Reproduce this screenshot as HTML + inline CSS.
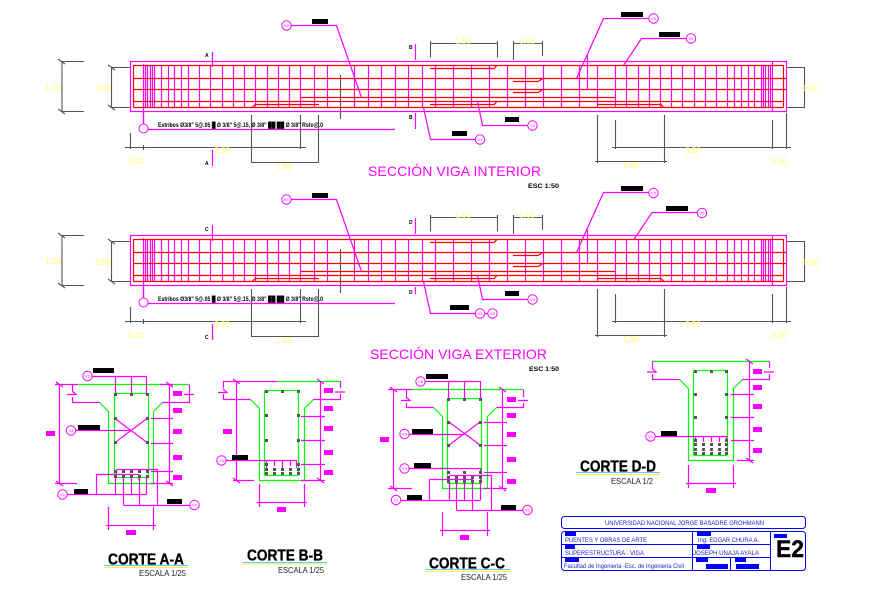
<!DOCTYPE html>
<html><head><meta charset="utf-8"><style>
html,body{margin:0;padding:0;background:#fff}
svg{display:block}
text{font-family:"Liberation Sans",sans-serif}
.m{stroke:#f0f;fill:none;stroke-width:1.2}
.r{stroke:#f00;fill:none;stroke-width:1.2}
.g{stroke:#0f0;fill:none;stroke-width:1.2}
.d{stroke:#555;fill:none;stroke-width:1.1}
.b{stroke:#00f;fill:none;stroke-width:1}
.y{fill:#ffff66;font-size:8px;text-anchor:middle}
.c{fill:#fff;stroke:#f0f;stroke-width:1}
.n{fill:#f0f;font-size:4px;text-anchor:middle}
.t{fill:#000;font-weight:bold;font-size:6px}
.h{fill:#000;font-weight:bold;font-size:16px;stroke:#000;stroke-width:.35}
.e{fill:#222;font-size:8px}
.f{fill:#22c;font-size:6px}
</style></head><body>
<svg width="878" height="600" viewBox="0 0 878 600" xmlns="http://www.w3.org/2000/svg">
<rect width="878" height="600" fill="#fff"/>
<defs>
<g id="beam">
<path class="d" d="M62 61.5V111.5M62 61.5H84M62 111.5H84M58 59L65 64M58 109L65 114M111.5 67.5V107.5M111.5 67.5H130M111.5 107.5H130M108 65L115 70M108 105L115 110"/>
<path class="d" d="M130.500 133V149M125 147.500H306M143.500 145V150M300.500 115V149M251.500 115V163M318.500 115V163M251 162.500H319M430.500 41V57.500M497.500 41V57.500M430 43.500H498M513.500 41V60M542.500 41V56M513 43.500H543M804.500 67.500V107.500M786 67.500H805M786 107.500H805M615.500 120V149M772.500 120V149M786.500 113V149M612 147.500H791M597.500 115V163M664.500 115V163M595 161.500H667M340.500 75V119"/>
<rect class="m" x="130.500" y="61.500" width="656" height="50"/>
<path class="m" d="M143.500 64V123M145.500 65V107M147.500 65V107M150.500 65V107M152.500 65V107M154.500 65V107M161.500 65V107M168.500 65V107M174.500 65V107M181.500 65V107M188.500 65V107M199.500 65V107M210.500 65V107M222.500 65V107M233.500 65V107M244.500 65V107M255.500 65V107M267.500 65V107M278.500 65V107M289.500 65V107M300.500 65V107M314.500 65V107M327.500 65V107M354.500 65V107M368.500 65V107M381.500 65V107M395.500 65V107M408.500 65V107M422.500 65V107M435.500 65V107M453.500 65V107M471.500 65V107M489.500 65V107M507.500 65V107M525.500 65V107M543.500 65V107M561.500 65V107M579.500 65V107M597.500 65V107M615.500 65V107M626.500 65V107M638.500 65V107M649.500 65V107M660.500 65V107M671.500 65V107M682.500 65V107M694.500 65V107M705.500 65V107M716.500 65V107M727.500 65V107M734.500 65V107M741.500 65V107M748.500 65V107M754.500 65V107M761.500 65V107M763.500 65V107M765.500 65V107M768.500 65V107M770.500 65V107M772.500 62V111"/>
<path class="r" d="M133.500 65.500H783.500M133.500 78.500H786M133.500 89.500H786M133.500 101.500H783.500M133.500 107.500H783.500M133.500 65V107.500M783.500 65V107.500M300.500 97.500H615M255 104.500H319M252 107.500L255 104.500M430 68.500H494L497 65.500M430 104.500H494L497 101.500M513 81.500H538L543 78.500M513 92.500H538L543 89.500M597 104.500H661L664 107.500"/>
<path class="m" d="M143.500 111V124M148 129.500H395M423.500 107.500L430.500 139.500H476M477.500 101.500L482.500 125.500H528M587.500 55V89.500"/>
</g>
</defs>

<!-- BEAM 1 -->
<use href="#beam"/>
<circle class="c" cx="143.500" cy="128.500" r="4.500"/>
<path class="m" d="M212.500 52V67M212.500 150V166M415.500 44V60M415.500 113V129M291 25.500H336.500L361.500 97.500M576.500 78.500L603.500 18.500H649M623.500 65.500L641.500 38.500H687"/>
<rect x="312" y="19" width="16" height="5"/><rect x="452" y="131" width="15" height="5"/><rect x="505" y="117" width="14" height="5"/><rect x="621" y="12" width="22" height="5"/><rect x="659" y="32" width="21" height="5"/>
<circle class="c" cx="286.500" cy="25.500" r="4.700"/><text class="n" x="286.500" y="27">E2</text>
<circle class="c" cx="480" cy="139.500" r="4.700"/><text class="n" x="480" y="141">V1</text>
<circle class="c" cx="532.500" cy="125.500" r="4.700"/><text class="n" x="532.500" y="127">V2</text>
<circle class="c" cx="653.500" cy="18.500" r="4.700"/><text class="n" x="653.500" y="20">V4</text>
<circle class="c" cx="691" cy="38.500" r="4.700"/><text class="n" x="691" y="40">V5</text>
<text class="t" x="205" y="57" style="font-size:5px">A</text><text class="t" x="205" y="165" style="font-size:5px">A</text>
<text class="t" x="409" y="49" style="font-size:5px">B</text><text class="t" x="409" y="119" style="font-size:5px">B</text>
<text class="y" x="53" y="90">1.10</text><text class="y" x="103" y="91">0.90</text><text class="y" x="222" y="153">3.50</text><text class="y" x="136" y="164">0.30</text><text class="y" x="284" y="169">1.50</text><text class="y" x="463" y="44">1.50</text><text class="y" x="527" y="44">0.65</text><text class="y" x="811" y="91">0.90</text><text class="y" x="693" y="153">3.50</text><text class="y" x="779" y="164">0.30</text><text class="y" x="631" y="168">1.60</text>
<text class="t" x="158" y="127" textLength="165" lengthAdjust="spacingAndGlyphs">Estribos Ø3/8" 5@.05 █ Ø 3/8" 5@.15, Ø 3/8" ██ ██ Ø 3/8" Rsto@.0</text>
<text x="368" y="176" font-size="14" fill="#f0f" textLength="173">SECCIÓN VIGA INTERIOR</text>
<text class="t" x="528" y="188" textLength="31" lengthAdjust="spacingAndGlyphs">ESC 1:50</text>

<!-- BEAM 2 -->
<use href="#beam" y="174"/>
<circle class="c" cx="143.500" cy="302.500" r="4.500"/>
<path class="m" d="M212.500 225V241M212.500 324V340M415.500 218V234M415.500 287V294M291 199.500H336.500L361.500 271.500M576.500 252.500L603.500 192.500H649M634 239.500L652 212.500H698"/>
<rect x="312" y="193" width="16" height="5"/><rect x="450" y="305" width="19" height="5"/><rect x="505" y="291" width="14" height="5"/><rect x="621" y="186" width="22" height="5"/><rect x="666" y="206" width="22" height="5"/>
<circle class="c" cx="286.500" cy="199.500" r="4.700"/><text class="n" x="286.500" y="201">E1</text>
<path class="m" d="M484 313.500H489"/>
<circle class="c" cx="480" cy="313.500" r="4.700"/><text class="n" x="480" y="315">V1</text>
<circle class="c" cx="492.500" cy="313.500" r="4.700"/><text class="n" x="492.500" y="315">V2</text>
<circle class="c" cx="532.500" cy="299.500" r="4.700"/><text class="n" x="532.500" y="301">V3</text>
<circle class="c" cx="653.500" cy="193" r="4.700"/><text class="n" x="653.500" y="194.500">V3</text>
<circle class="c" cx="702" cy="213" r="4.700"/><text class="n" x="702" y="214.500">V5</text>
<text class="t" x="205" y="231" style="font-size:5px">C</text><text class="t" x="205" y="339" style="font-size:5px">C</text>
<text class="t" x="409" y="224" style="font-size:5px">D</text><text class="t" x="409" y="294" style="font-size:5px">D</text>
<text class="y" x="53" y="264">1.10</text><text class="y" x="103" y="265">0.90</text><text class="y" x="222" y="327">3.50</text><text class="y" x="136" y="338">0.30</text><text class="y" x="284" y="343">1.50</text><text class="y" x="463" y="218">1.50</text><text class="y" x="527" y="218">0.65</text><text class="y" x="811" y="265">0.90</text><text class="y" x="693" y="327">3.50</text><text class="y" x="779" y="338">0.30</text><text class="y" x="631" y="342">1.60</text>
<text class="t" x="158" y="301" textLength="165" lengthAdjust="spacingAndGlyphs">Estribos Ø3/8" 5@.05 █ Ø 3/8" 5@.15, Ø 3/8" ██ ██ Ø 3/8" Rsto@.0</text>
<text x="370" y="359" font-size="14" fill="#f0f" textLength="177">SECCIÓN VIGA EXTERIOR</text>
<text class="t" x="529" y="371" textLength="30" lengthAdjust="spacingAndGlyphs">ESC 1:50</text>

<!-- CORTE A-A -->
<path class="g" d="M78 384.500H189M99.500 402.500L108.500 411.500V483.500H153.500V411.500L162.500 402.500"/>
<rect class="g" x="114.500" y="393.500" width="34" height="84" rx="1.500"/>
<path class="m" d="M55 384.500H78M72.500 384.500V391M72.500 397V402.500H99.500M67 394.500H76L72 391M162.500 402.500H189.500V384.500M184 394.500H194M115 418.500L147 442.500M147 418.500L115 442.500M92 376.500H146.500M115.500 376V394M131.500 376V394M146.500 376V394M76 430.500H131M67 494.500H146.500M96.500 494.500V474.500H139V480M115.500 476V494M123.500 476V494M131.500 476V494M139.500 476V494M146.500 476V494M123.500 505.500H190M123.500 480V505M139.500 480V505M157.500 469.500V505M116.500 469.500H157.500M116.500 469.500V474M169.500 384V484M151 418.500H173M151 443.500H173M151 471.500H173M151 483.500H173M162 402.500H173M160 384.500H173M166 382L173 387M166 481L173 486M59.500 384V484M55 483.500H77M56 382L63 387M56 481L63 486M108.500 507V530M153.500 507V530M106 525.500H156"/>
<g fill="#555"><rect x="114" y="393" width="3" height="3"/><rect x="130" y="393" width="3" height="3"/><rect x="146" y="393" width="3" height="3"/><rect x="114" y="417" width="3" height="3"/><rect x="146" y="417" width="3" height="3"/><rect x="114" y="441" width="3" height="3"/><rect x="146" y="441" width="3" height="3"/><rect x="114" y="470" width="3" height="3"/><rect x="122" y="470" width="3" height="3"/><rect x="130" y="470" width="3" height="3"/><rect x="138" y="470" width="3" height="3"/><rect x="146" y="470" width="3" height="3"/><rect x="114" y="475" width="3" height="3"/><rect x="122" y="475" width="3" height="3"/><rect x="130" y="475" width="3" height="3"/><rect x="138" y="475" width="3" height="3"/><rect x="146" y="475" width="3" height="3"/></g>
<rect x="93" y="368" width="21" height="5"/><rect x="78" y="425" width="22" height="5"/><rect x="74" y="489" width="14" height="5"/><rect x="167" y="499" width="15" height="5"/>
<g fill="#f0f"><rect x="173" y="391" width="9" height="5"/><rect x="173" y="408" width="9" height="5"/><rect x="173" y="429" width="9" height="5"/><rect x="173" y="455" width="9" height="5"/><rect x="173" y="475" width="9" height="5"/><rect x="46" y="431" width="9" height="5"/><rect x="126" y="530" width="10" height="5"/></g>
<circle class="c" cx="87.500" cy="376" r="4.700"/><text class="n" x="87.500" y="377.500">V3</text>
<circle class="c" cx="71" cy="430.500" r="4.700"/><text class="n" x="71" y="432">V4</text>
<circle class="c" cx="62.500" cy="494.500" r="4.700"/><text class="n" x="62.500" y="496">V1</text>
<circle class="c" cx="194.500" cy="505" r="4.700"/><text class="n" x="194.500" y="506.500">V2</text>
<text class="h" x="108" y="564.500" textLength="76" lengthAdjust="spacingAndGlyphs">CORTE A-A</text>
<path d="M104 565.500H188" stroke="#5cf" fill="none"/><path d="M104 567.500H188" stroke="#fe3" fill="none"/>
<text class="e" x="139" y="576" textLength="47" lengthAdjust="spacingAndGlyphs">ESCALA 1/25</text>

<!-- CORTE B-B -->
<path class="g" d="M277 381.500H340.500M250.500 399.500L259.500 408.500V480.500H304.500V408.500L313.500 399.500"/>
<rect class="g" x="264.500" y="390.500" width="34" height="85" rx="1.500"/>
<path class="m" d="M223 381.500H277M223.500 381.500V388M223.500 394V399.500H250.500M218 392.500H227L223 389M313.500 399.500H340.500V394M340.500 381V388M335 392H345M225 460.500H296.500M266.500 460V468M274.500 460V466M282.500 460V468M290.500 460V466M296.500 460V468M320.500 381V481M301 416.500H325M301 440.500H325M301 464.500H325M301 480.500H325M313 399.500H325M317 379L324 384M317 478L324 483M236.500 381V481M233 480.500H254M233 379L240 384M233 478L240 483M259.500 484V507M304.500 484V507M257 502.500H307"/>
<g fill="#555"><rect x="265" y="390" width="3" height="3"/><rect x="281" y="390" width="3" height="3"/><rect x="297" y="390" width="3" height="3"/><rect x="265" y="414" width="3" height="3"/><rect x="297" y="414" width="3" height="3"/><rect x="265" y="439" width="3" height="3"/><rect x="297" y="439" width="3" height="3"/><rect x="265" y="463" width="3" height="3"/><rect x="297" y="463" width="3" height="3"/><rect x="265" y="468" width="3" height="3"/><rect x="273" y="468" width="3" height="3"/><rect x="281" y="468" width="3" height="3"/><rect x="289" y="468" width="3" height="3"/><rect x="297" y="468" width="3" height="3"/><rect x="265" y="472" width="3" height="3"/><rect x="273" y="472" width="3" height="3"/><rect x="281" y="472" width="3" height="3"/><rect x="289" y="472" width="3" height="3"/><rect x="297" y="472" width="3" height="3"/></g>
<rect x="232" y="455" width="16" height="5"/>
<g fill="#f0f"><rect x="324" y="388" width="9" height="5"/><rect x="324" y="406" width="9" height="5"/><rect x="324" y="426" width="9" height="5"/><rect x="324" y="450" width="9" height="5"/><rect x="324" y="470" width="9" height="5"/><rect x="223" y="429" width="9" height="5"/><rect x="277" y="507" width="9" height="5"/></g>
<circle class="c" cx="221.500" cy="460.500" r="4.700"/><text class="n" x="221.500" y="462">V3</text>
<text class="h" x="247" y="560.500" textLength="76" lengthAdjust="spacingAndGlyphs">CORTE B-B</text>
<path d="M243 562.500H327" stroke="#5cf" fill="none"/><path d="M243 564H327" stroke="#fe3" fill="none"/>
<text class="e" x="278" y="573" textLength="46" lengthAdjust="spacingAndGlyphs">ESCALA 1/25</text>

<!-- CORTE C-C -->
<path class="g" d="M412 389.500H523.500M433.500 407.500L442.500 416.500V488.500H487.500V416.500L496.500 407.500"/>
<rect class="g" x="447.500" y="398.500" width="34" height="85" rx="1.500"/>
<path class="m" d="M388 389.500H412M406.500 389.500V397M406.500 403V407.500H433.500M401 400.500H410L406 397M496.500 407.500H523.500V403M523.500 389.500V397M518 400.500H528M449 422L480 445M480 422L449 445M425 381.500H480.500M448.500 381V400M464.500 381V400M480.500 381V400M409 434.500H464.500M409 468.500H480.500V472M401 500.500H480.500M429.500 500.500V479.500H472.500M449.500 478V500M464.500 478V500M472.500 478V500M480.500 478V500M456.500 510.500H523M456.500 478V510M472.500 500V510M491.500 475.500V510M449.500 475.500H491.500M502.500 389V488M484 422.500H507M484 445.500H507M484 472.500H507M484 488.500H507M497 407.500H507M499 387L506 392M499 486L506 491M393.500 389V488M388 488.500H412M390 387L397 392M390 486L397 491M442.500 512V536M487.500 512V536M440 530.500H490"/>
<g fill="#555"><rect x="447" y="398" width="3" height="3"/><rect x="463" y="398" width="3" height="3"/><rect x="479" y="398" width="3" height="3"/><rect x="447" y="421" width="3" height="3"/><rect x="479" y="421" width="3" height="3"/><rect x="447" y="444" width="3" height="3"/><rect x="479" y="444" width="3" height="3"/><rect x="447" y="471" width="3" height="3"/><rect x="463" y="471" width="3" height="3"/><rect x="479" y="471" width="3" height="3"/><rect x="447" y="476" width="3" height="3"/><rect x="455" y="476" width="3" height="3"/><rect x="463" y="476" width="3" height="3"/><rect x="471" y="476" width="3" height="3"/><rect x="479" y="476" width="3" height="3"/><rect x="447" y="480" width="3" height="3"/><rect x="455" y="480" width="3" height="3"/><rect x="463" y="480" width="3" height="3"/><rect x="471" y="480" width="3" height="3"/><rect x="479" y="480" width="3" height="3"/></g>
<rect x="426" y="374" width="22" height="5"/><rect x="412" y="429" width="21" height="5"/><rect x="414" y="463" width="17" height="5"/><rect x="407" y="495" width="15" height="5"/><rect x="501" y="505" width="15" height="5"/>
<g fill="#f0f"><rect x="507" y="397" width="9" height="5"/><rect x="507" y="413" width="9" height="5"/><rect x="507" y="432" width="9" height="5"/><rect x="507" y="457" width="9" height="5"/><rect x="507" y="479" width="9" height="5"/><rect x="380" y="437" width="9" height="5"/><rect x="460" y="535" width="9" height="5"/></g>
<circle class="c" cx="420.500" cy="381.500" r="4.700"/><text class="n" x="420.500" y="383">V6</text>
<circle class="c" cx="404.500" cy="434" r="4.700"/><text class="n" x="404.500" y="435.500">V3</text>
<circle class="c" cx="404.500" cy="468.500" r="4.700"/><text class="n" x="404.500" y="470">V3</text>
<circle class="c" cx="396" cy="500" r="4.700"/><text class="n" x="396" y="501.500">V1</text>
<circle class="c" cx="527.500" cy="510" r="4.700"/><text class="n" x="527.500" y="511.500">V2</text>
<text class="h" x="429" y="568.500" textLength="76" lengthAdjust="spacingAndGlyphs">CORTE C-C</text>
<path d="M426 569.500H510" stroke="#5cf" fill="none"/><path d="M426 571.500H510" stroke="#fe3" fill="none"/>
<text class="e" x="461" y="580" textLength="46" lengthAdjust="spacingAndGlyphs">ESCALA 1/25</text>

<!-- CORTE D-D -->
<path class="g" d="M652 361.500H769.500M679.500 379.500L688.500 388.500V460.500H733.500V388.500L742.500 379.500"/>
<rect class="g" x="693.500" y="370.500" width="34" height="85" rx="1.500"/>
<path class="m" d="M652.500 361.500V368M652.500 374V379.500H679.500M647 372H656L652 368M742.500 379.500H769.500V374M769.500 361.500V368M764 372H774M655 436.500H726.500M695.500 436V442M703.500 436V442M711.500 436V442M719.500 436V442M726.500 436V442M749.500 361V461M731 394.500H754M731 417.500H754M731 440.500H754M737 460.500H754M742 379.500H754M746 359L753 364M746 458L753 463M688.500 465V488M733.500 465V488M686 483.500H736"/>
<g fill="#555"><rect x="694" y="370" width="3" height="3"/><rect x="710" y="370" width="3" height="3"/><rect x="725" y="370" width="3" height="3"/><rect x="694" y="393" width="3" height="3"/><rect x="725" y="393" width="3" height="3"/><rect x="694" y="416" width="3" height="3"/><rect x="725" y="416" width="3" height="3"/><rect x="694" y="439" width="3" height="3"/><rect x="725" y="439" width="3" height="3"/><rect x="694" y="443" width="3" height="3"/><rect x="702" y="443" width="3" height="3"/><rect x="710" y="443" width="3" height="3"/><rect x="718" y="443" width="3" height="3"/><rect x="725" y="443" width="3" height="3"/><rect x="694" y="448" width="3" height="3"/><rect x="702" y="448" width="3" height="3"/><rect x="710" y="448" width="3" height="3"/><rect x="718" y="448" width="3" height="3"/><rect x="725" y="448" width="3" height="3"/><rect x="694" y="452" width="3" height="3"/><rect x="702" y="452" width="3" height="3"/><rect x="710" y="452" width="3" height="3"/><rect x="718" y="452" width="3" height="3"/><rect x="725" y="452" width="3" height="3"/></g>
<rect x="661" y="431" width="16" height="5"/>
<g fill="#f0f"><rect x="753" y="369" width="9" height="5"/><rect x="753" y="385" width="9" height="5"/><rect x="753" y="404" width="9" height="5"/><rect x="753" y="427" width="9" height="5"/><rect x="753" y="448" width="9" height="5"/><rect x="706" y="488" width="10" height="5"/></g>
<circle class="c" cx="650.500" cy="436.500" r="4.700"/><text class="n" x="650.500" y="438">V4</text>
<text class="h" x="580" y="471.500" textLength="76" lengthAdjust="spacingAndGlyphs">CORTE D-D</text>
<path d="M576 472.500H660" stroke="#5cf" fill="none"/><path d="M576 474.500H660" stroke="#fe3" fill="none"/>
<text class="e" x="611" y="484" textLength="42" lengthAdjust="spacingAndGlyphs">ESCALA 1/2</text>

<!-- TITLE BLOCK -->
<rect class="b" x="561.500" y="516.500" width="244" height="12" rx="3"/>
<rect class="b" x="561.500" y="531.500" width="244" height="39" rx="3"/>
<path class="b" d="M561.500 544.500H770.500M561.500 557.500H770.500M692.500 531.500V570.500M770.500 531.500V570.500M730.500 557.500V570.500"/>
<g fill="#00f"><rect x="565" y="532" width="11" height="4"/><rect x="565" y="545" width="10" height="4"/><rect x="565" y="558" width="14" height="4"/><rect x="697" y="532" width="14" height="4"/><rect x="697" y="545" width="13" height="4"/><rect x="696" y="558" width="12" height="4"/><rect x="706" y="564" width="22" height="5"/><rect x="735" y="558" width="11" height="4"/><rect x="736" y="564" width="23" height="5"/><rect x="774" y="534" width="13" height="4"/></g>
<text class="f" x="605" y="525" textLength="159" lengthAdjust="spacingAndGlyphs">UNIVERSIDAD NACIONAL JORGE BASADRE GROHMANN</text>
<text class="f" x="565" y="542" textLength="82" lengthAdjust="spacingAndGlyphs">PUENTES Y OBRAS DE ARTE</text>
<text class="f" x="565" y="555" textLength="79" lengthAdjust="spacingAndGlyphs">SUPERESTRUCTURA - VIGA</text>
<text class="f" x="564" y="568" textLength="120" lengthAdjust="spacingAndGlyphs">Facultad de Ingenieria -Esc. de Ingenieria Civil</text>
<text class="f" x="698" y="542" textLength="61" lengthAdjust="spacingAndGlyphs">Ing. EDGAR CHURA A.</text>
<text class="f" x="693" y="555" textLength="66" lengthAdjust="spacingAndGlyphs">JOSEPH UNAJA AYALA</text>
<text x="776" y="557" font-size="24" font-weight="bold" fill="#000" stroke="#000" stroke-width=".4" textLength="28" lengthAdjust="spacingAndGlyphs">E2</text>
</svg>
</body></html>
